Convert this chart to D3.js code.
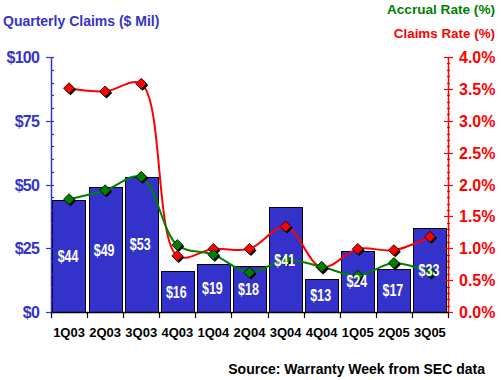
<!DOCTYPE html>
<html><head><meta charset="utf-8">
<script src="https://cdn.jsdelivr.net/npm/d3@7"></script>
<style>body{margin:0;background:#fff}svg{display:block}</style>
</head><body>
<svg id="c" width="501" height="380"></svg>
<script>
const categories = ["1Q03","2Q03","3Q03","4Q03","1Q04","2Q04","3Q04","4Q04","1Q05","2Q05","3Q05"];
const claims = [44,49,53,16,19,18,41,13,24,17,33];
const claimsRate = [3.51,3.46,3.58,0.88,0.99,0.99,1.34,0.70,0.99,0.97,1.18];
const accrualRate = [1.77,1.91,2.12,1.05,0.90,0.62,0.82,0.71,0.57,0.77,0.62];
const leftTicks = [0,25,50,75,100];
const rightTicks = [0,0.5,1,1.5,2,2.5,3,3.5,4];

const BLUE="#3333cc", RED="#ff0000", GREEN="#008000";
const svg=d3.select("#c");
const L=51,R=448,T=57,B=312;
const x=d3.scaleBand().domain(categories).range([L,R]).paddingInner(0.08).paddingOuter(0.04);
const xb=d3.scaleBand().domain(categories).range([L,R]);
const y=d3.scaleLinear().domain([0,100]).range([B,T]);
const y2=d3.scaleLinear().domain([0,4]).range([B,T]);
const font="Arial, 'Liberation Sans', sans-serif";

// bars
svg.append("g").selectAll("rect").data(claims).join("rect")
 .attr("x",(d,i)=>Math.round(x(categories[i]))+0.5).attr("y",d=>Math.round(y(d))+0.5)
 .attr("width",Math.round(x.bandwidth())).attr("height",d=>Math.round(B-y(d)))
 .attr("fill",BLUE).attr("stroke","#000").attr("stroke-width",1);

// left axis
const gl=svg.append("g");
gl.append("line").attr("x1",L+0.5).attr("x2",L+0.5).attr("y1",T).attr("y2",B).attr("stroke",BLUE).attr("stroke-width",1.5);
d3.range(0,101,5).forEach(v=>{
  const major=v%25===0;
  gl.append("line").attr("x1",major?L-5:L).attr("x2",L+3).attr("y1",Math.round(y(v))+0.5).attr("y2",Math.round(y(v))+0.5).attr("stroke",BLUE).attr("stroke-width",1.2);
});
gl.selectAll("text").data(leftTicks).join("text").attr("x",39).attr("y",d=>y(d)+6)
 .attr("text-anchor","end").attr("fill",BLUE).attr("font-family",font).attr("font-weight","bold")
 .attr("font-size",16).attr("letter-spacing",-0.8).text(d=>"$"+d);

// right axis
const gr=svg.append("g");
gr.append("line").attr("x1",R+0.5).attr("x2",R+0.5).attr("y1",T).attr("y2",B).attr("stroke",RED).attr("stroke-width",1.5);
d3.range(0,41,1).forEach(k=>{
  const major=k%5===0;
  const yy=Math.round(y2(k/10))+0.5;
  gr.append("line").attr("x1",major?R-4:R-1).attr("x2",major?R+5:R+2).attr("y1",yy).attr("y2",yy).attr("stroke",RED).attr("stroke-width",1.2);
});
gr.selectAll("text").data(rightTicks).join("text").attr("x",459).attr("y",d=>y2(d)+6)
 .attr("fill",RED).attr("font-family",font).attr("font-weight","bold")
 .attr("font-size",16).text(d=>d.toFixed(1)+"%");

// bottom axis
const gb=svg.append("g");
gb.append("line").attr("x1",L).attr("x2",R+1).attr("y1",B+0.5).attr("y2",B+0.5).attr("stroke","#000").attr("stroke-width",1.5);
categories.concat(["end"]).forEach((c,i)=>{
  const xx=Math.round(L+i*xb.step())+0.5;
  gb.append("line").attr("x1",xx).attr("x2",xx).attr("y1",B).attr("y2",B+6).attr("stroke","#000").attr("stroke-width",1.2);
});
gb.selectAll("text").data(categories).join("text").attr("x",d=>xb(d)+xb.bandwidth()/2).attr("y",337)
 .attr("text-anchor","middle").attr("fill","#000").attr("font-family",font).attr("font-weight","bold")
 .attr("font-size",13).text(d=>d);

// lines
const cx=(i)=>xb(categories[i])+xb.bandwidth()/2;
const line=d3.line().x((d,i)=>cx(i)).y(d=>y2(d)).curve(d3.curveCatmullRom.alpha(0.5));
svg.append("path").attr("d",line(claimsRate)).attr("fill","none").attr("stroke",RED).attr("stroke-width",2);
svg.append("path").attr("d",line(accrualRate)).attr("fill","none").attr("stroke",GREEN).attr("stroke-width",2);

function markers(data,color){
  const g=svg.append("g");
  const s=5.5;
  const dia=(px,py)=>`M${px},${py-s}L${px+s},${py}L${px},${py+s}L${px-s},${py}Z`;
  data.forEach((d,i)=>{
    const px=cx(i), py=y2(d);
    g.append("path").attr("d",dia(px+1.5,py+1.5)).attr("fill","#000");
    g.append("path").attr("d",dia(px,py)).attr("fill",color).attr("stroke","#000").attr("stroke-width",0.8);
  });
}
markers(claimsRate,RED);
markers(accrualRate,GREEN);

// bar labels
svg.append("g").selectAll("text").data(claims).join("text")
 .attr("transform",(d,i)=>`translate(${x(categories[i])+x.bandwidth()/2-1},${(y(d)+B)/2+6}) scale(0.78,1)`)
 .attr("text-anchor","middle").attr("fill","#fff").attr("font-family",font)
 .attr("font-weight","bold").attr("font-size",16).text(d=>"$"+d);

// titles
svg.append("text").attr("x",3).attr("y",26).attr("fill",BLUE).attr("font-family",font).attr("font-weight","bold").attr("font-size",14).text("Quarterly Claims ($ Mil)");
svg.append("text").attr("x",495).attr("y",14).attr("text-anchor","end").attr("fill",GREEN).attr("font-family",font).attr("font-weight","bold").attr("font-size",13.6).text("Accrual Rate (%)");
svg.append("text").attr("x",495).attr("y",38).attr("text-anchor","end").attr("fill",RED).attr("font-family",font).attr("font-weight","bold").attr("font-size",13.4).text("Claims Rate (%)");
svg.append("text").attr("x",485).attr("y",374).attr("text-anchor","end").attr("fill","#000").attr("font-family",font).attr("font-weight","bold").attr("font-size",14).text("Source: Warranty Week from SEC data");
</script>
</body></html>
